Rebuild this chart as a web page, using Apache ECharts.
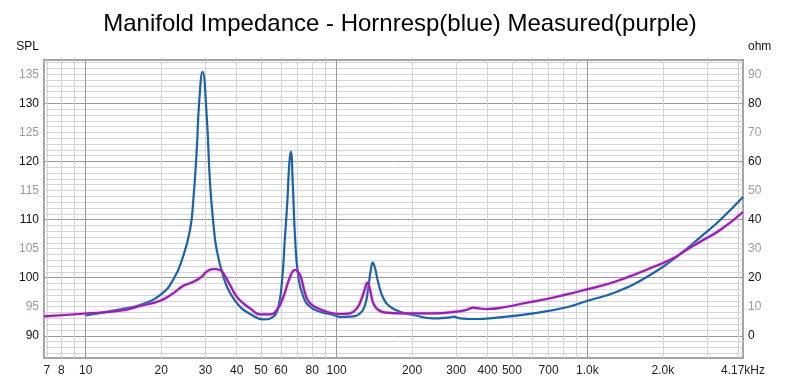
<!DOCTYPE html>
<html><head><meta charset="utf-8">
<script src="https://cdn.jsdelivr.net/npm/echarts@6/dist/echarts.min.js"></script>
<style>html,body{margin:0;padding:0;background:#fff}#c{width:800px;height:382px}</style>
</head><body><div id="c"></div>
<script>
const chartTitle = 'Manifold Impedance - Hornresp(blue) Measured(purple)';
const freqMin = 6.82, freqMax = 4170;
const xLabelFreqs = [7, 8, 10, 20, 30, 40, 50, 60, 80, 100, 200, 300, 400, 500, 700, 1000, 2000, 4170];
const xLabelTexts = ['7', '8', '10', '20', '30', '40', '50', '60', '80', '100', '200', '300', '400', '500', '700', '1.0k', '2.0k', '4.17kHz'];
const xMinorGrid = [7, 8, 9, 20, 30, 40, 50, 60, 70, 80, 90, 200, 300, 400, 500, 600, 700, 800, 900, 2000, 3000, 4000];
const xMajorGrid = [10, 100, 1000];

const splMin = 86.18, splMax = 137.46;
const splLabels = [90, 95, 100, 105, 110, 115, 120, 125, 130, 135];
const splMinorGrid = [87, 88, 89, 91, 92, 93, 94, 95, 96, 97, 98, 99, 101, 102, 103, 104, 105, 106, 107, 108, 109,
  111, 112, 113, 114, 115, 116, 117, 118, 119, 121, 122, 123, 124, 125, 126, 127, 128, 129,
  131, 132, 133, 134, 135, 136, 137];
const splMajorGrid = [90, 100, 110, 120, 130];
const ohmMin = -7.64, ohmMax = 94.92;
const ohmLabels = [0, 10, 20, 30, 40, 50, 60, 70, 80, 90];

// Hornresp (blue) – impedance, ohm
const hornFreq = [10, 13.7, 16.46, 19.79, 22.29, 24.43, 26.05, 26.85, 27.71, 28.37, 29.22, 30.38, 31.3, 32.28, 33.29,
  35.38, 37.62, 41.2, 45.2, 51.1, 56.0, 58.6, 60.5, 62.3, 63.7, 64.8, 65.7, 66.9, 68.3, 70.4, 73.7, 78.4, 85.9,
  97.1, 103.3, 113.2, 124.1, 129.9, 133.9, 136.9, 139.4, 142.4, 146.8, 153.7, 163.5, 179.1, 202.4, 243.2, 283.5,
  292.2, 310.7, 351.2, 448.6, 609, 827.8, 994.5, 1310, 1778, 2272, 2814, 3382, 4170];
const hornOhm = [6.99, 9.12, 10.6, 14.04, 19.2, 27.22, 36.41, 46.73, 63.94, 81.14, 90.88, 75.4, 52.58, 38.82, 29.52,
  20.34, 14.73, 10.01, 7.5, 5.68, 6.57, 10.01, 18.07, 34.1, 46.73, 59.36, 63.35, 52.48, 34.1, 20.34, 13.45, 10.01, 8.29,
  7.16, 6.47, 6.57, 7.74, 10.6, 16.9, 22.64, 25.15, 23.23, 18.07, 12.9, 10.01, 8.29, 7.16, 6.02, 6.37,
  6.57, 6.02, 5.78, 6.37, 7.74, 9.81, 11.98, 15.18, 20.92, 27.22, 33.9, 39.85, 47.76];

// Measured (purple) – impedance, ohm
const measFreq = [6.82, 10, 13.7, 16.46, 19.79, 22.29, 24.43, 26.05, 27.71, 29.01, 30.38, 32.28, 34.32, 35.38, 37.62,
  40.0, 42.5, 45.2, 49.5, 54.3, 57.8, 61.4, 65.3, 68.3, 71.5, 74.9, 78.4, 85.9, 94.2, 103.3, 113.2, 120.4, 126.0,
  129.9, 132.7, 136.0, 140.2, 146.8, 158.6, 179.1, 243.2, 301.5, 328.5, 351.2, 373.4, 397.2, 477.1, 573.3, 688.9,
  827.8, 994.5, 1231, 1525, 1778, 2202, 2415, 2814, 3382, 4170];
const measOhm = [6.71, 7.67, 8.64, 10.25, 12.08, 14.62, 17.14, 18.07, 19.2, 20.34, 22.06, 22.99, 22.64, 21.51, 17.48,
  13.45, 11.18, 9.46, 7.4, 7.4, 8.88, 13.45, 20.34, 22.64, 20.92, 14.62, 11.18, 9.12, 7.95, 7.5, 7.74, 9.46, 12.9,
  16.35, 18.27, 15.76, 11.18, 8.88, 7.95, 7.74, 7.74, 8.29, 8.88, 9.67, 9.39, 9.22, 10.01, 11.39, 12.66,
  14.28, 16.0, 18.07, 20.92, 23.23, 26.67, 28.94, 32.38, 36.41, 42.6];

const lg = v => Math.log10(v);
const pairs = (fs, vs) => fs.map((f, i) => [lg(f), vs[i]]);
const fontFam = '"Liberation Sans", Arial, sans-serif';

const chart = echarts.init(document.getElementById('c'), null, { renderer: 'canvas' });
const hiddenAxisBits = { axisLine: { show: false }, axisTick: { show: false }, axisLabel: { show: false } };

chart.setOption({
  animation: false,
  backgroundColor: '#fff',
  title: {
    text: chartTitle, left: 'center', top: 7,
    textStyle: { fontFamily: fontFam, fontSize: 24, fontWeight: 'normal', color: '#000' }
  },
  grid: { left: 44, top: 60, width: 699, height: 298, show: true, borderColor: '#a4a4a4', borderWidth: 2, backgroundColor: 'transparent' },
  xAxis: [
    {
      type: 'value', min: lg(freqMin), max: lg(freqMax),
      axisLine: { show: false },
      axisTick: { show: false, customValues: xMinorGrid.map(lg) },
      axisLabel: {
        customValues: xLabelFreqs.map(lg), margin: 7,
        fontFamily: fontFam, fontSize: 12, color: '#222',
        formatter: v => {
          let best = 0;
          xLabelFreqs.forEach((f, i) => { if (Math.abs(lg(f) - v) < Math.abs(lg(xLabelFreqs[best]) - v)) best = i; });
          return xLabelTexts[best];
        }
      },
      splitLine: { show: true, lineStyle: { color: '#d4d4d4', width: 1 } }
    },
    Object.assign({
      type: 'value', min: lg(freqMin), max: lg(freqMax), position: 'bottom',
      splitLine: { show: true, lineStyle: { color: '#9a9a9a', width: 1 } }
    }, hiddenAxisBits, { axisTick: { show: false, customValues: xMajorGrid.map(lg) } })
  ],
  yAxis: [
    {
      type: 'value', min: splMin, max: splMax, position: 'left',
      name: 'SPL', nameLocation: 'end', nameGap: 7,
      nameTextStyle: { fontFamily: fontFam, fontSize: 12, color: '#111', align: 'right', verticalAlign: 'bottom', padding: [0, 5, 0, 0] },
      axisLine: { show: false },
      axisTick: { show: false, customValues: splMinorGrid },
      axisLabel: {
        customValues: splLabels, margin: 5, fontFamily: fontFam, fontSize: 12,
        formatter: v => (Math.round(v) % 10 === 0 ? '{k|' : '{g|') + Math.round(v) + '}',
        rich: { k: { color: '#111', fontFamily: fontFam, fontSize: 12 }, g: { color: '#9c9c9c', fontFamily: fontFam, fontSize: 12 } }
      },
      splitLine: { show: true, lineStyle: { color: '#d4d4d4', width: 1 } }
    },
    {
      type: 'value', min: ohmMin, max: ohmMax, position: 'right',
      name: 'ohm', nameLocation: 'end', nameGap: 7,
      nameTextStyle: { fontFamily: fontFam, fontSize: 12, color: '#111', align: 'left', verticalAlign: 'bottom', padding: [0, 0, 0, 5] },
      axisLine: { show: false },
      axisTick: { show: false },
      axisLabel: {
        customValues: ohmLabels, margin: 5, fontFamily: fontFam, fontSize: 12,
        formatter: v => ((Math.round(v) / 10) % 2 === 0 ? '{k|' : '{g|') + Math.round(v) + '}',
        rich: { k: { color: '#111', fontFamily: fontFam, fontSize: 12 }, g: { color: '#9c9c9c', fontFamily: fontFam, fontSize: 12 } }
      },
      splitLine: { show: false }
    },
    Object.assign({
      type: 'value', min: splMin, max: splMax, position: 'left',
      splitLine: { show: true, lineStyle: { color: '#9a9a9a', width: 1 } }
    }, hiddenAxisBits, { axisTick: { show: false, customValues: splMajorGrid } })
  ],
  series: [
    {
      name: 'Hornresp', type: 'line', xAxisIndex: 0, yAxisIndex: 1,
      data: pairs(hornFreq, hornOhm), showSymbol: false, smooth: 0.5,
      lineStyle: { color: '#1c62a8', width: 2.2 }, z: 3
    },
    {
      name: 'Measured', type: 'line', xAxisIndex: 0, yAxisIndex: 1,
      data: pairs(measFreq, measOhm), showSymbol: false, smooth: 0.5,
      lineStyle: { color: '#9422ac', width: 2.2, shadowColor: 'rgba(225,120,240,0.8)', shadowBlur: 2 }, z: 4
    }
  ]
});
</script>
</body></html>
